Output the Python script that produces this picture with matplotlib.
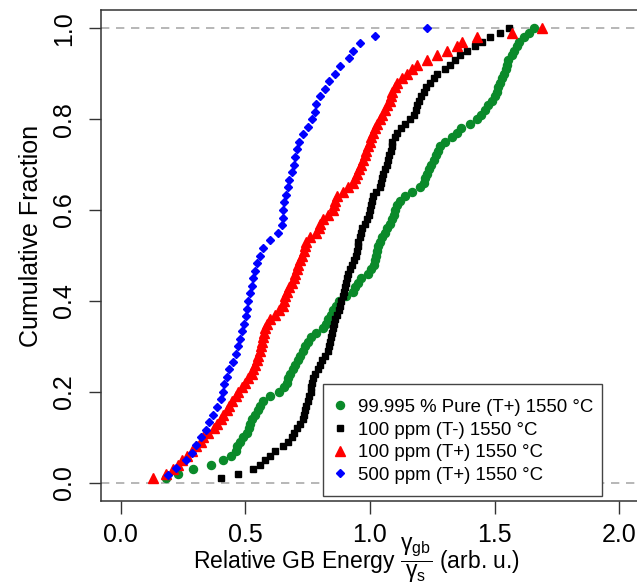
import numpy as np
import matplotlib
matplotlib.use("Agg")
import matplotlib.pyplot as plt
from matplotlib.patches import Rectangle

plt.rcParams['font.family'] = ['Liberation Sans', 'DejaVu Sans']
plt.rcParams['mathtext.fontset'] = 'custom'
plt.rcParams['mathtext.rm'] = 'Liberation Sans'
plt.rcParams['mathtext.it'] = 'Liberation Sans'
plt.rcParams['mathtext.bf'] = 'Liberation Sans:bold'

# relative GB energies (sorted samples)
pure_tp = [0.18, 0.23, 0.29, 0.36, 0.41, 0.44, 0.46, 0.465, 0.48, 0.49,
           0.505, 0.515, 0.52, 0.527, 0.54, 0.55, 0.56, 0.57, 0.60, 0.635,
           0.655, 0.665, 0.672, 0.68, 0.69, 0.70, 0.71, 0.72, 0.73, 0.74,
           0.75, 0.765, 0.785, 0.81, 0.825, 0.832, 0.842, 0.85, 0.862, 0.875,
           0.905, 0.93, 0.94, 0.95, 0.965, 0.99, 1.005, 1.015, 1.02, 1.025,
           1.028, 1.031, 1.04, 1.05, 1.06, 1.07, 1.08, 1.088, 1.095, 1.10,
           1.11, 1.12, 1.14, 1.17, 1.20, 1.215, 1.222, 1.228, 1.235, 1.245,
           1.255, 1.265, 1.275, 1.283, 1.30, 1.33, 1.35, 1.365, 1.40, 1.43,
           1.445, 1.46, 1.475, 1.488, 1.50, 1.508, 1.515, 1.522, 1.53, 1.54,
           1.545, 1.55, 1.555, 1.57, 1.58, 1.59, 1.60, 1.62, 1.64, 1.66]

ppm100_tm = [0.40, 0.47, 0.53, 0.56, 0.58, 0.60, 0.62, 0.65, 0.67, 0.685,
             0.695, 0.705, 0.72, 0.73, 0.735, 0.74, 0.745, 0.75, 0.755, 0.763,
             0.764, 0.766, 0.771, 0.78, 0.79, 0.80, 0.807, 0.82, 0.83, 0.835,
             0.84, 0.845, 0.848, 0.852, 0.856, 0.86, 0.868, 0.875, 0.88, 0.885,
             0.89, 0.895, 0.90, 0.902, 0.907, 0.912, 0.92, 0.928, 0.937, 0.945,
             0.948, 0.95, 0.953, 0.96, 0.965, 0.968, 0.978, 0.988, 0.994, 1.00,
             1.003, 1.008, 1.012, 1.025, 1.04, 1.045, 1.05, 1.053, 1.06, 1.067,
             1.072, 1.078, 1.083, 1.088, 1.09, 1.10, 1.11, 1.125, 1.14, 1.16,
             1.175, 1.185, 1.19, 1.195, 1.205, 1.215, 1.225, 1.24, 1.255, 1.27,
             1.30, 1.32, 1.34, 1.36, 1.39, 1.42, 1.45, 1.48, 1.52, 1.56]

ppm100_tp = [0.13, 0.18, 0.21, 0.23, 0.245, 0.265, 0.285, 0.30, 0.32, 0.33,
             0.35, 0.375, 0.385, 0.40, 0.41, 0.425, 0.435, 0.445, 0.46, 0.47,
             0.485, 0.50, 0.51, 0.525, 0.53, 0.54, 0.545, 0.552, 0.558, 0.562,
             0.566, 0.57, 0.575, 0.58, 0.585, 0.60, 0.62, 0.635, 0.65, 0.653,
             0.657, 0.665, 0.675, 0.685, 0.695, 0.70, 0.705, 0.71, 0.72, 0.725,
             0.735, 0.74, 0.745, 0.76, 0.785, 0.795, 0.80, 0.81, 0.83, 0.85,
             0.855, 0.86, 0.867, 0.89, 0.91, 0.93, 0.94, 0.947, 0.955, 0.965,
             0.972, 0.98, 0.985, 0.992, 1.00, 1.005, 1.012, 1.02, 1.03, 1.04,
             1.05, 1.06, 1.068, 1.08, 1.085, 1.09, 1.10, 1.11, 1.13, 1.15,
             1.17, 1.19, 1.23, 1.27, 1.31, 1.35, 1.37, 1.43, 1.57, 1.69]

ppm500_tp = [0.19, 0.22, 0.26, 0.285, 0.30, 0.32, 0.34, 0.355, 0.37, 0.385,
             0.40, 0.41, 0.415, 0.425, 0.435, 0.45, 0.46, 0.47, 0.478, 0.486,
             0.495, 0.502, 0.507, 0.51, 0.52, 0.525, 0.53, 0.537, 0.545, 0.56,
             0.57, 0.60, 0.63, 0.645, 0.65, 0.652, 0.656, 0.663, 0.67, 0.675,
             0.686, 0.695, 0.70, 0.705, 0.715, 0.733, 0.75, 0.767, 0.779, 0.785,
             0.80, 0.82, 0.837, 0.86, 0.88, 0.915, 0.93, 0.96, 1.02, 1.23]

labels = ["99.995 % Pure (T+) 1550 °C", "100 ppm (T-) 1550 °C",
          "100 ppm (T+) 1550 °C", "500 ppm (T+) 1550 °C"]
series = [pure_tp, ppm100_tm, ppm100_tp, ppm500_tp]
colors = ["#0a8a2a", "black", "#ff0000", "#0000ff"]
markers = ["o", "s", "^", "D"]
msizes = [5.8, 5.0, 6.6, 3.7]

fig = plt.figure(figsize=(6.37, 5.87), dpi=100)
ax = fig.add_axes([101/637, 86/587, 538/637, 491/587])

ax.axhline(0, color="#aaaaaa", ls=(0, (5, 4)), lw=1.2, zorder=1)
ax.axhline(1, color="#aaaaaa", ls=(0, (5, 4)), lw=1.2, zorder=1)

for xs, lab, c, m, ms in zip(series, labels, colors, markers, msizes):
    x = np.sort(np.array(xs))
    y = np.arange(1, len(x) + 1) / len(x)
    ax.plot(x, y, ls="none", marker=m, ms=ms, color=c, mec=c, label=lab, zorder=3)

ax.set_xlim(-0.08, 2.08)
ax.set_ylim(-0.04, 1.04)
ax.set_xticks([0.0, 0.5, 1.0, 1.5, 2.0])
ax.set_yticks([0.0, 0.2, 0.4, 0.6, 0.8, 1.0])
ax.set_xticklabels(["0.0", "0.5", "1.0", "1.5", "2.0"])
ax.set_yticklabels(["0.0", "0.2", "0.4", "0.6", "0.8", "1.0"], rotation=90, va="center")
ax.tick_params(axis="both", labelsize=18, length=9, width=1, color="#333333", pad=7)
ax.tick_params(axis="y", pad=9)
for s in ax.spines.values():
    s.set_color("#333333")
    s.set_linewidth(1.1)

ax.set_xlabel(r"Relative GB Energy $\dfrac{\gamma_{gb}}{\gamma_s}$ (arb. u.)", fontsize=16.5)
ax.set_ylabel("Cumulative Fraction", fontsize=18)
ax.yaxis.set_label_coords(-0.108, 0.54)
ax.xaxis.set_label_coords(0.474, -0.071)

# legend box (frame drawn separately, R style)
box = Rectangle((323/637, 1 - 496/587), 279/637, 112/587, transform=fig.transFigure,
                facecolor="white", edgecolor="#444444", lw=1.0, zorder=4, clip_on=False)
ax.add_patch(box)
leg = ax.legend(loc="upper left", bbox_to_anchor=(323/637, 1 - 389/587),
                bbox_transform=fig.transFigure, fontsize=13.4, frameon=False,
                borderpad=0.53, labelspacing=0.3, handlelength=0.8,
                handletextpad=0.55, borderaxespad=0)
leg.set_zorder(5)

fig.savefig("out.png", dpi=100)
